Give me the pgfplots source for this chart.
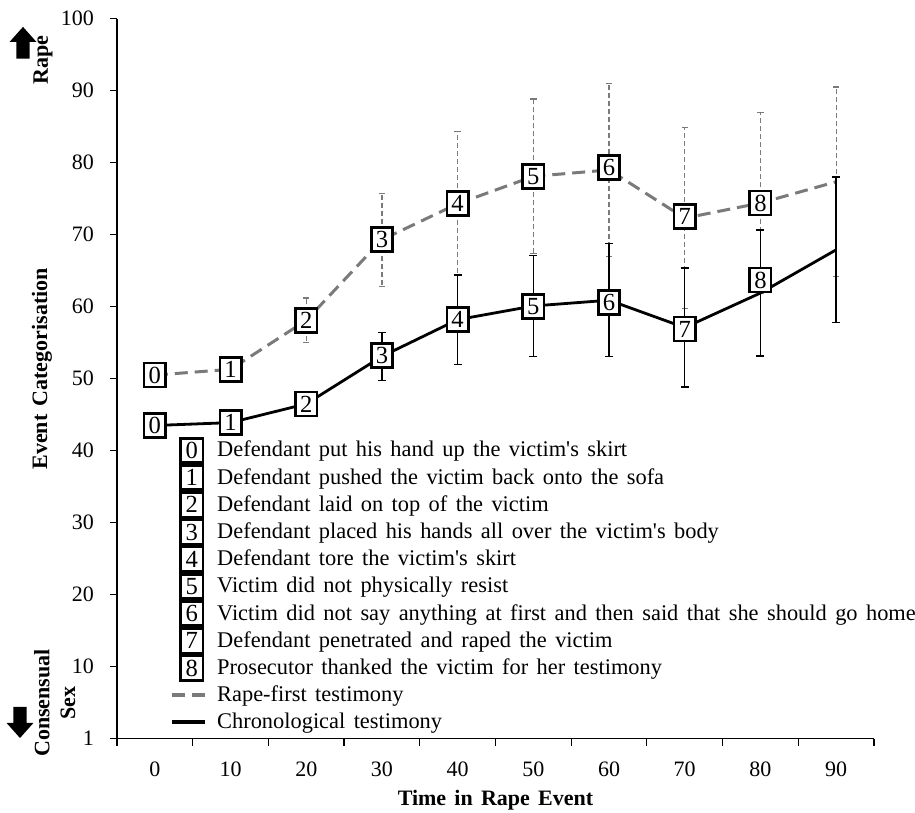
\documentclass[border=0pt]{standalone}
\usepackage{fontspec}
\setmainfont{Liberation Serif}[WordSpace=1.5]
\usepackage{pgfplots}
\pgfplotsset{compat=1.18}
\usepackage{pgfplotstable}

\definecolor{rfgray}{HTML}{7A7A7A}

\pgfplotstableread{
x y err ly lab
0 50.5 1.0 50.5 0
10 51.3 1.0 51.3 1
20 58.1 3.1 58.1 2
30 69.3 6.45 69.3 3
40 74.3 10.0 74.3 4
50 78.1 10.75 78.1 5
60 79.0 12.0 79.3 6
70 72.3 12.6 72.5 7
80 74.4 12.6 74.4 8
90 77.35 13.15 77.35 9
}\rf

\pgfplotstableread{
x y err ly lab
0 43.5 1.0 43.5 0
10 43.9 1.0 43.9 1
20 46.5 1.5 46.5 2
30 53.1 3.35 53.2 3
40 58.2 6.2 58.2 4
50 60.1 7.05 60.0 5
60 60.9 7.85 60.6 6
70 57.1 8.25 56.9 7
80 61.9 8.75 63.7 8
90 67.9 10.1 67.9 9
}\chrono

\tikzset{boxnode/.style={draw=black, line width=1.3bp, fill=white, inner sep=0pt,
  text height={}, text depth={}, anchor=center,
  minimum width=10.7bp, minimum height=12bp, font=\fontsize{12.3bp}{12.3bp}\selectfont}}
\pgfplotsset{numbox/.style={legend image code/.code={%
  \path[draw=none, fill=none] (0,-6.775bp) rectangle (22.5bp,6.775bp);
  \draw[solid, black, line width=1.4bp, fill=white] (4.1bp,-6.1bp) rectangle (15.4bp,6.1bp);
  \node[inner sep=0pt, text height={}, text depth={}, anchor=center, black,
    font=\fontsize{12.3bp}{12.3bp}\selectfont] at (9.75bp,0) {#1};}}}
\pgfplotsset{linebox/.style={legend image code/.code={%
  \path[draw=none, fill=none] (0,-6.775bp) rectangle (22.5bp,6.775bp);
  \draw[line width=1.8bp] (0,0) -- (16.5bp,0);}}}

\begin{document}
\begin{tikzpicture}
\useasboundingbox (-58.5bp,-37.15bp) rectangle (399bp,369.35bp);
\begin{axis}[
  at={(0,0)}, anchor=south west,
  width=378.5bp, height=360bp, scale only axis,
  xmin=-5, xmax=95, ymin=0, ymax=100,
  axis x line*=bottom, axis y line*=left,
  axis line style={line width=0.6bp, black},
  tick align=outside,
  major tick length=3.5bp,
  tick style={line width=0.6bp, black},
  xtick={0,10,...,90},
  xticklabels={0,10,20,30,40,50,60,70,80,90},
  x tick style={draw=none},
  extra x ticks={-5,5,15,25,35,45,55,65,75,85,95},
  extra x tick labels={},
  extra x tick style={x tick style={draw=black, line width=0.6bp}},
  ytick={0,10,...,100},
  yticklabels={1,10,20,30,40,50,60,70,80,90,100},
  /pgf/number format/assume math mode=true,
  ticklabel style={font=\fontsize{11bp}{13bp}\selectfont},
  xticklabel style={yshift=-4.5bp},
  yticklabel style={xshift=-4.5bp},
  xlabel={\textbf{Time in Rape Event}},
  xlabel style={at={(axis description cs:0.5,0)}, anchor=center, yshift=-30.65bp,
    font=\fontsize{11bp}{13bp}\selectfont},
  ylabel={\textbf{Event Categorisation}},
  ylabel style={at={(axis description cs:-0.0993,0.5135)}, rotate=0, anchor=center,
    font=\fontsize{11bp}{13bp}\selectfont},
  legend style={at={(axis description cs:0.070,0.4198)}, anchor=north west,
    draw=none, fill=none, inner sep=0pt, row sep=0pt, column sep=0pt,
    nodes={inner sep=0pt},
    font=\fontsize{11.2bp}{13bp}\selectfont},
  legend cell align=left,
]
\addlegendimage{numbox=0}\addlegendentry{Defendant put his hand up the victim\textquotesingle s skirt}
\addlegendimage{numbox=1}\addlegendentry{Defendant pushed the victim back onto the sofa}
\addlegendimage{numbox=2}\addlegendentry{Defendant laid on top of the victim}
\addlegendimage{numbox=3}\addlegendentry{Defendant placed his hands all over the victim\textquotesingle s body}
\addlegendimage{numbox=4}\addlegendentry{Defendant tore the victim\textquotesingle s skirt}
\addlegendimage{numbox=5}\addlegendentry{Victim did not physically resist}
\addlegendimage{numbox=6}\addlegendentry{Victim did not say anything at first and then said that she should go home}
\addlegendimage{numbox=7}\addlegendentry{Defendant penetrated and raped the victim}
\addlegendimage{numbox=8}\addlegendentry{Prosecutor thanked the victim for her testimony}

\addplot[rfgray, line width=1.5bp, dash pattern=on 6.5bp off 3.5bp, linebox,
  error bars/.cd, y dir=both, y explicit,
  error bar style={rfgray, line width=0.6bp, dash pattern=on 2.5bp off 1.5bp},
  error mark options={rfgray, solid, line width=0.6bp, mark size=1.6bp, rotate=90}]
  table[x=x, y=y, y error=err]{\rf};
\addlegendentry{Rape-first testimony}

\addplot[black, line width=1.4bp, linebox,
  error bars/.cd, y dir=both, y explicit,
  error bar style={black, line width=0.7bp, solid},
  error mark options={black, solid, line width=0.7bp, mark size=2bp, rotate=90}]
  table[x=x, y=y, y error=err]{\chrono};
\addlegendentry{Chronological testimony}

\addplot[draw=none, forget plot, restrict x to domain=0:80,
  nodes near coords, point meta=explicit symbolic,
  nodes near coords align={center},
  every node near coord/.append style={boxnode, anchor=center}]
  table[x=x, y=ly, meta=lab]{\rf};
\addplot[draw=none, forget plot, restrict x to domain=0:80,
  nodes near coords, point meta=explicit symbolic,
  nodes near coords align={center},
  every node near coord/.append style={boxnode, anchor=center}]
  table[x=x, y=ly, meta=lab]{\chrono};
\end{axis}

% side annotations
\fill[black] (-47bp,355.9bp) -- (-40.3bp,348.4bp) -- (-43.7bp,348.4bp) -- (-43.7bp,340bp)
  -- (-50.3bp,340bp) -- (-50.3bp,348.4bp) -- (-53.7bp,348.4bp) -- cycle;
\fill[black] (-48.5bp,0.35bp) -- (-41.8bp,7.85bp) -- (-45.2bp,7.85bp) -- (-45.2bp,15.9bp)
  -- (-51.8bp,15.9bp) -- (-51.8bp,7.85bp) -- (-55.2bp,7.85bp) -- cycle;
\node[rotate=90, font=\fontsize{11bp}{13bp}\selectfont\bfseries] at (-37bp,339.4bp) {Rape};
\node[rotate=90, font=\fontsize{11bp}{13bp}\selectfont\bfseries] at (-37.5bp,17.9bp) {Consensual};
\node[rotate=90, font=\fontsize{11bp}{13bp}\selectfont\bfseries] at (-24.5bp,17.9bp) {Sex};
\end{tikzpicture}
\end{document}
